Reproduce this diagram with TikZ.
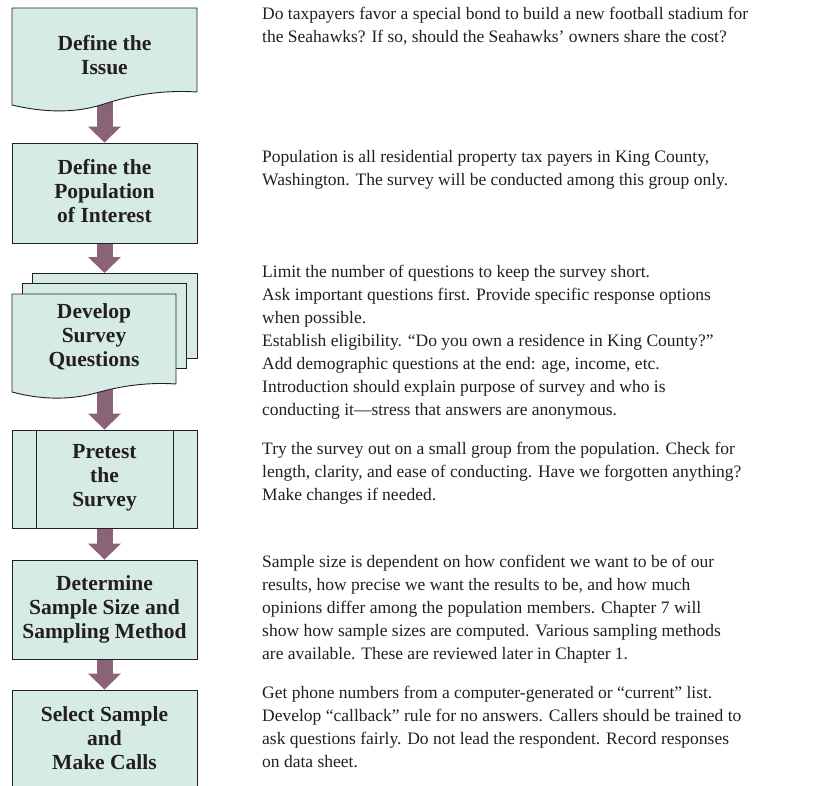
\documentclass[tikz,border=0pt]{standalone}
\usepackage{fontspec}
\setmainfont{Liberation Serif}
\usetikzlibrary{arrows.meta}
\definecolor{boxfill}{HTML}{D6EBE3}
\definecolor{arrowc}{HTML}{8B6377}
\definecolor{ink}{HTML}{231F20}
\pgfdeclarelayer{bg}
\pgfsetlayers{bg,main}
\newcommand{\desctext}[1]{\parbox[t]{550pt}{\raggedright #1}}
\begin{document}
\begin{tikzpicture}[x=1pt,y=-1pt,
  boxline/.style={draw=ink, line width=0.9pt, fill=boxfill},
  procbox/.style={boxline, minimum width=185pt, inner sep=0pt},
  boxtext/.style={font=\fontsize{21.5}{24}\selectfont\bfseries, align=center, text=ink, inner sep=0pt},
  desc/.style={font=\fontsize{17.5}{23}\selectfont, anchor=base west, inner sep=0pt, text=ink},
  fat/.style={draw=arrowc, line width=16pt, -{Triangle[width=32pt,length=16pt]}}
]
\useasboundingbox (0,0) rectangle (817,785);

% Box 1: document shape
\draw[boxline] (12,8) -- (197,8) -- (197,92)
  .. controls (165,90) and (135,94) .. (104,104)
  .. controls (80,112) and (50,114) .. (12,105) -- cycle;
\node[boxtext] (t1) at (104.5,55) {Define the\\Issue};
\coordinate (d1b) at (104.5,98);

% Box 2
\node[procbox, minimum height=100pt] (n2) at (104.5,193) {};
\node[boxtext] (t2) at (104.5,191) {Define the\\Population\\of Interest};

% Box 3: stacked documents
\draw[boxline] (32,273) rectangle (197,358);
\draw[boxline] (22,283) rectangle (186,368);
\draw[boxline] (12,294) -- (176,294) -- (176,384)
  .. controls (148,382) and (120,386) .. (96,393)
  .. controls (74,399) and (46,401) .. (12,392) -- cycle;
\coordinate (d3t) at (104.5,273);
\coordinate (d3b) at (104.5,384);
\node[boxtext] (t3) at (94,337) {Develop\\Survey\\Questions};

% Box 4: predefined process
\node[procbox, minimum height=98pt] (n4) at (104.5,479) {};
\draw[draw=ink, line width=0.9pt] (n4.north -| 36,0) -- (n4.south -| 36,0);
\draw[draw=ink, line width=0.9pt] (n4.north -| 173,0) -- (n4.south -| 173,0);
\node[boxtext] (t4) at (104.5,478) {Pretest\\the\\Survey};

% Box 5
\node[procbox, minimum height=99pt] (n5) at (104.5,609.5) {};
\node[boxtext] (t5) at (104.5,609) {Determine\\Sample Size and\\Sampling Method};

% Box 6
\node[procbox, minimum height=100pt] (n6) at (104.5,740) {};
\node[boxtext] (t6) at (104.5,738) {Select Sample\\and\\Make Calls};

% Arrows
\begin{pgfonlayer}{bg}
\draw[fat] (d1b) -- (n2.north);
\draw[fat] (n2.south) -- (d3t);
\draw[fat] (d3b) -- (n4.north);
\draw[fat] (n4.south) -- (n5.north);
\draw[fat] (n5.south) -- (n6.north);
\end{pgfonlayer}

% Descriptions
\node[desc] (r1) at (262,19) {\desctext{Do taxpayers favor a special bond to build a new football stadium for\\the Seahawks? If so, should the Seahawks’ owners share the cost?}};
\node[desc] (r2) at (262,162) {\desctext{Population is all residential property tax payers in King County,\\Washington. The survey will be conducted among this group only.}};
\node[desc] (r3) at (262,277) {\desctext{Limit the number of questions to keep the survey short.\\Ask important questions first. Provide specific response options\\when possible.\\Establish eligibility. “Do you own a residence in King County?”\\Add demographic questions at the end: age, income, etc.\\Introduction should explain purpose of survey and who is\\conducting it—stress that answers are anonymous.}};
\node[desc] (r4) at (262,454) {\desctext{Try the survey out on a small group from the population. Check for\\length, clarity, and ease of conducting. Have we forgotten anything?\\Make changes if needed.}};
\node[desc] (r5) at (262,567) {\desctext{Sample size is dependent on how confident we want to be of our\\results, how precise we want the results to be, and how much\\opinions differ among the population members. Chapter 7 will\\show how sample sizes are computed. Various sampling methods\\are available. These are reviewed later in Chapter 1.}};
\node[desc] (r6) at (262,698) {\desctext{Get phone numbers from a computer-generated or “current” list.\\Develop “callback” rule for no answers. Callers should be trained to\\ask questions fairly. Do not lead the respondent. Record responses\\on data sheet.}};
\end{tikzpicture}
\end{document}
